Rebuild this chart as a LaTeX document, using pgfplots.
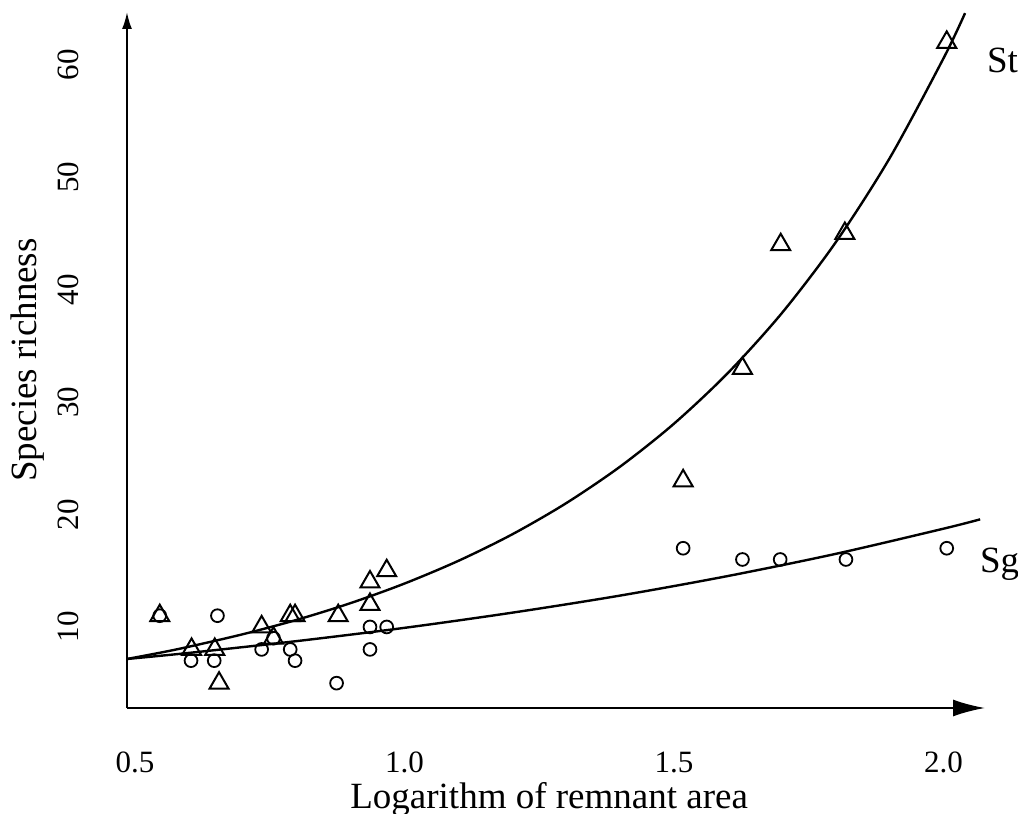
\documentclass[border=0pt]{standalone}
\usepackage{pgfplots}
\pgfplotsset{compat=1.18}
\usepackage{pgfplotstable}
\usepackage{fontspec}
\setmainfont{Liberation Serif}
\usetikzlibrary{arrows.meta}

\pgfplotstableread{
x y
0.546 11
0.605 8
0.648 8
0.656 5
0.735 10
0.757 9
0.788 11
0.797 11
0.877 11
0.936 14
0.936 12
0.967 15
1.517 23
1.627 33
1.698 44
1.817 45
2.006 62
}\stdata

\pgfplotstableread{
x y
0.546 11
0.604 7
0.647 7
0.653 11
0.735 8
0.757 9
0.788 8
0.797 7
0.874 5
0.936 10
0.936 8
0.967 10
1.517 17
1.627 16
1.697 16
1.819 16
2.006 17
}\sgdata

\pgfplotstableread{
x y
0.4852 7.15
0.55 7.74
0.6 8.24
0.7 9.35
0.8 10.63
0.9 12.12
1.0 13.86
1.1 15.88
1.2 18.24
1.3 21.01
1.4 24.26
1.5 28.08
1.6 32.59
1.7 37.91
1.8 44.21
1.9 51.69
2.0 60.58
2.04 64.6
}\stfit

\pgfplotstableread{
x y
0.4852 7.15
0.6 7.69
0.8 8.74
1.0 9.92
1.2 11.27
1.4 12.79
1.6 14.53
1.8 16.50
2.0 18.74
2.068 19.57
}\sgfit

\begin{document}
\begin{tikzpicture}
\useasboundingbox (-63.5pt,-53pt) rectangle (445.5pt,354pt);
\begin{axis}[
  at={(0pt,0pt)}, anchor=south west,
  scale only axis, width=429pt, height=348pt,
  xmin=0.4852, xmax=2.077, ymin=2.79, ymax=64.7,
  clip=false,
  axis lines=left,
  axis line style={line width=1pt},
  x axis line style={-{Latex[length=16pt,width=8.5pt]}},
  y axis line style={-{Latex[length=8.5pt,width=5pt]}},
  xtick={0.5,1.0,1.5,2.0},
  xticklabels={0.5,1.0,1.5,2.0},
  ytick={10,20,30,40,50,60},
  /pgf/number format/assume math mode=true,
  tick label style={font=\fontsize{15.5}{18}\selectfont},
  xtick style={draw=none},
  ytick style={draw=none},
  xticklabel style={anchor=base},
  xticklabel shift=30pt,
  yticklabel style={rotate=90, anchor=base},
  yticklabel shift=22pt,
  xlabel={Logarithm of remnant area},
  ylabel={Species richness},
  label style={font=\fontsize{18.5}{22}\selectfont},
  xlabel style={at={(axis description cs:0.492,-0.1437)}, anchor=base},
  ylabel style={at={(axis description cs:-0.105,0.5)}, anchor=base, rotate=0},
]
\addplot[black, line width=1.2pt, smooth, no marks] table {\stfit};
\addplot[black, line width=1.2pt, smooth, no marks] table {\sgfit};
\addplot[only marks, mark=o, mark size=3.2pt, mark options={black, line width=0.9pt}] table {\sgdata};
\addplot[only marks, mark=triangle, mark size=5.5pt, mark options={black, line width=1pt}] table {\stdata};
\node[anchor=base west, font=\fontsize{18.5}{22}\selectfont] at (axis cs:2.0677,59.3) {St};
\node[anchor=base west, font=\fontsize{18.5}{22}\selectfont] at (axis cs:2.0547,14.8) {Sg};
\end{axis}
\end{tikzpicture}
\end{document}
